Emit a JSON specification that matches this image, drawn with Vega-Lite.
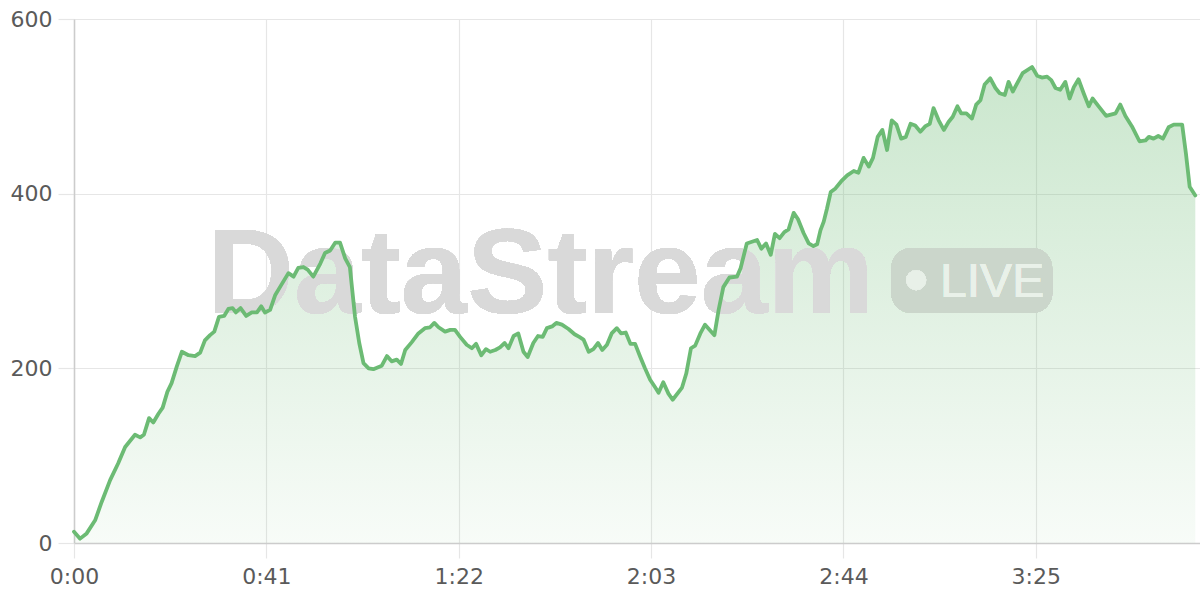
{
  "$schema": "https://vega.github.io/schema/vega-lite/v6.json",
  "width": 1126,
  "height": 524,
  "autosize": {"type": "none"},
  "padding": {"left": 74, "top": 19, "right": 0, "bottom": 57},
  "background": "#ffffff",
  "config": {
    "view": {"stroke": null},
    "font": "DejaVu Sans",
    "axis": {
      "labelFont": "DejaVu Sans",
      "labelFontSize": 22,
      "labelColor": "#5a5a5a",
      "gridColor": "#e6e6e6",
      "gridWidth": 1.2,
      "tickColor": "#e6e6e6",
      "tickWidth": 1.2,
      "domainColor": "#cccccc",
      "domainWidth": 1.5,
      "title": null
    }
  },
  "data": {
    "values": [
      {"t":0,"v":13},{"t":1.3,"v":5},{"t":2.7,"v":11},{"t":4.5,"v":26},{"t":5.9,"v":47},{"t":7.7,"v":72},{"t":9.4,"v":91},{"t":10.9,"v":110},{"t":13,"v":124},{"t":14.1,"v":121},{"t":14.9,"v":124},{"t":16,"v":143},{"t":16.9,"v":138},{"t":18,"v":148},{"t":18.9,"v":155},{"t":19.9,"v":173},{"t":20.8,"v":183},{"t":21.9,"v":202},{"t":23,"v":219},{"t":24.4,"v":215},{"t":25.8,"v":214},{"t":26.9,"v":218},{"t":27.9,"v":232},{"t":29,"v":238},{"t":29.9,"v":242},{"t":30.9,"v":259},{"t":32,"v":260},{"t":32.9,"v":268},{"t":33.8,"v":269},{"t":34.5,"v":264},{"t":35.5,"v":269},{"t":36.7,"v":260},{"t":37.9,"v":264},{"t":39,"v":264},{"t":39.9,"v":271},{"t":40.7,"v":264},{"t":41.8,"v":267},{"t":42.9,"v":284},{"t":43.9,"v":293},{"t":45.7,"v":309},{"t":46.8,"v":305},{"t":47.8,"v":315},{"t":48.9,"v":316},{"t":49.8,"v":313},{"t":51,"v":305},{"t":52.5,"v":320},{"t":53.5,"v":332},{"t":54.6,"v":335},{"t":55.7,"v":344},{"t":56.7,"v":344},{"t":57.8,"v":326},{"t":58.8,"v":316},{"t":59.3,"v":290},{"t":59.9,"v":259},{"t":60.8,"v":229},{"t":61.7,"v":206},{"t":62.8,"v":200},{"t":63.8,"v":199},{"t":65.6,"v":203},{"t":66.7,"v":214},{"t":67.7,"v":208},{"t":68.8,"v":210},{"t":69.7,"v":205},{"t":70.6,"v":221},{"t":72,"v":230},{"t":73.4,"v":240},{"t":74.8,"v":246},{"t":75.9,"v":247},{"t":76.8,"v":252},{"t":77.7,"v":247},{"t":79.1,"v":242},{"t":80.2,"v":244},{"t":81.2,"v":244},{"t":82.3,"v":236},{"t":83.7,"v":227},{"t":84.8,"v":223},{"t":85.7,"v":228},{"t":86.8,"v":215},{"t":87.8,"v":222},{"t":88.7,"v":219},{"t":89.8,"v":221},{"t":90.8,"v":224},{"t":91.8,"v":229},{"t":92.6,"v":223},{"t":93.7,"v":237},{"t":94.7,"v":240},{"t":95.8,"v":219},{"t":96.7,"v":213},{"t":97.9,"v":229},{"t":98.9,"v":237},{"t":99.9,"v":236},{"t":100.8,"v":246},{"t":101.9,"v":248},{"t":102.8,"v":252},{"t":104,"v":250},{"t":105.4,"v":245},{"t":106.7,"v":239},{"t":107.7,"v":236},{"t":108.6,"v":233},{"t":109.7,"v":219},{"t":110.7,"v":222},{"t":111.7,"v":229},{"t":112.6,"v":221},{"t":113.6,"v":227},{"t":114.6,"v":240},{"t":115.7,"v":246},{"t":116.6,"v":240},{"t":117.6,"v":241},{"t":118.6,"v":228},{"t":119.6,"v":228},{"t":120.7,"v":213},{"t":121.7,"v":200},{"t":122.8,"v":187},{"t":123.9,"v":178},{"t":124.6,"v":172},{"t":125.6,"v":184},{"t":126.7,"v":171},{"t":127.6,"v":164},{"t":129.6,"v":178},{"t":130.5,"v":194},{"t":131.5,"v":223},{"t":132.4,"v":226},{"t":133.5,"v":240},{"t":134.5,"v":250},{"t":135.5,"v":244},{"t":136.5,"v":238},{"t":137.4,"v":267},{"t":138.4,"v":293},{"t":139.7,"v":304},{"t":141.3,"v":305},{"t":142.1,"v":315},{"t":143.4,"v":343},{"t":144.5,"v":345},{"t":145.6,"v":347},{"t":146.5,"v":337},{"t":147.5,"v":343},{"t":148.5,"v":330},{"t":149.4,"v":354},{"t":150.4,"v":349},{"t":151.4,"v":356},{"t":152.3,"v":359},{"t":153.4,"v":378},{"t":154.3,"v":371},{"t":155.5,"v":355},{"t":156.6,"v":343},{"t":157.6,"v":340},{"t":158.4,"v":342},{"t":159.1,"v":358},{"t":159.8,"v":368},{"t":160.5,"v":383},{"t":161.3,"v":402},{"t":162.3,"v":406},{"t":163.5,"v":414},{"t":164.8,"v":421},{"t":166.2,"v":426},{"t":167.2,"v":424},{"t":168.3,"v":441},{"t":169.4,"v":431},{"t":170.3,"v":441},{"t":171.3,"v":465},{"t":172.3,"v":473},{"t":173.3,"v":450},{"t":174.3,"v":484},{"t":175.3,"v":479},{"t":176.3,"v":463},{"t":177.3,"v":465},{"t":178.3,"v":480},{"t":179.3,"v":478},{"t":180.4,"v":471},{"t":181.4,"v":477},{"t":182.4,"v":480},{"t":183.2,"v":498},{"t":184.3,"v":484},{"t":185.4,"v":473},{"t":186.4,"v":482},{"t":187.3,"v":488},{"t":188.3,"v":500},{"t":189.1,"v":492},{"t":190.2,"v":492},{"t":191.4,"v":486},{"t":192.3,"v":502},{"t":193.2,"v":507},{"t":194.1,"v":525},{"t":195.3,"v":532},{"t":196.4,"v":521},{"t":197.3,"v":515},{"t":198.4,"v":513},{"t":199.2,"v":528},{"t":200.1,"v":517},{"t":202.2,"v":538},{"t":204.2,"v":545},{"t":205.3,"v":535},{"t":206.3,"v":533},{"t":207.4,"v":534},{"t":208.3,"v":530},{"t":209.2,"v":521},{"t":210.2,"v":519},{"t":211.3,"v":528},{"t":212.2,"v":509},{"t":213.1,"v":522},{"t":214.1,"v":531},{"t":215.2,"v":515},{"t":216.3,"v":500},{"t":217.1,"v":509},{"t":218.4,"v":500},{"t":220,"v":489},{"t":222,"v":492},{"t":223,"v":502},{"t":224.1,"v":489},{"t":225.5,"v":477},{"t":227.1,"v":460},{"t":228.4,"v":461},{"t":229.1,"v":465},{"t":230.1,"v":463},{"t":231.1,"v":466},{"t":232.1,"v":463},{"t":233.3,"v":476},{"t":234.4,"v":479},{"t":236.2,"v":479},{"t":237,"v":446},{"t":237.8,"v":408},{"t":239,"v":398}
    ]
  },
  "layer": [
    {
      "mark": {
        "type": "area",
        "interpolate": "linear",
        "color": {
          "gradient": "linear",
          "x1": 0, "y1": 0, "x2": 0, "y2": 1,
          "stops": [
            {"offset": 0, "color": "rgba(109,187,117,0.36)"},
            {"offset": 1, "color": "rgba(109,187,117,0.05)"}
          ]
        }
      },
      "encoding": {
        "x": {
          "field": "t", "type": "quantitative",
          "scale": {"domain": [0, 240], "nice": false, "zero": false},
          "axis": {
            "values": [0, 41, 82, 123, 164, 205],
            "labelExpr": "floor(datum.value/60) + ':' + (datum.value % 60 < 10 ? '0' : '') + (datum.value % 60)",
            "tickSize": 15,
            "labelPadding": 8,
            "labelFlush": false,
            "grid": true
          }
        },
        "y": {
          "field": "v", "type": "quantitative",
          "scale": {"domain": [0, 600], "nice": false},
          "axis": {
            "values": [0, 200, 400, 600],
            "tickSize": 16,
            "labelPadding": 6,
            "grid": true
          }
        }
      }
    },
    {
      "mark": {"type": "rect", "cornerRadius": 20, "fill": "#cbd6cb"},
      "encoding": {
        "x": {"datum": 174.2, "type": "quantitative"},
        "x2": {"datum": 208.5},
        "y": {"datum": 337.8, "type": "quantitative"},
        "y2": {"datum": 263.4}
      }
    },
    {
      "mark": {"type": "text", "text": "DataStream", "font": "Liberation Sans", "fontWeight": "bold", "fontSize": 120, "align": "left", "baseline": "alphabetic", "fill": "#d9d9d9"},
      "encoding": {
        "x": {"datum": 28.4, "type": "quantitative"},
        "y": {"datum": 263, "type": "quantitative"}
      }
    },
    {
      "mark": {"type": "text", "text": "LIVE", "font": "Liberation Sans", "fontWeight": "normal", "fontSize": 48, "align": "left", "baseline": "alphabetic", "fill": "#e9f1e9"},
      "encoding": {
        "x": {"datum": 184.6, "type": "quantitative"},
        "y": {"datum": 281.7, "type": "quantitative"}
      }
    },
    {
      "mark": {"type": "point", "filled": true, "shape": "circle", "size": 380, "fill": "#e9f1e9", "stroke": "#e9f1e9", "strokeWidth": 0.5},
      "encoding": {
        "x": {"datum": 179.5, "type": "quantitative"},
        "y": {"datum": 301, "type": "quantitative"}
      }
    },
    {
      "mark": {"type": "line", "interpolate": "linear", "color": "#6cbb74", "strokeWidth": 3.8, "strokeJoin": "round", "strokeCap": "round"},
      "encoding": {
        "x": {"field": "t", "type": "quantitative"},
        "y": {"field": "v", "type": "quantitative"}
      }
    }
  ]
}
